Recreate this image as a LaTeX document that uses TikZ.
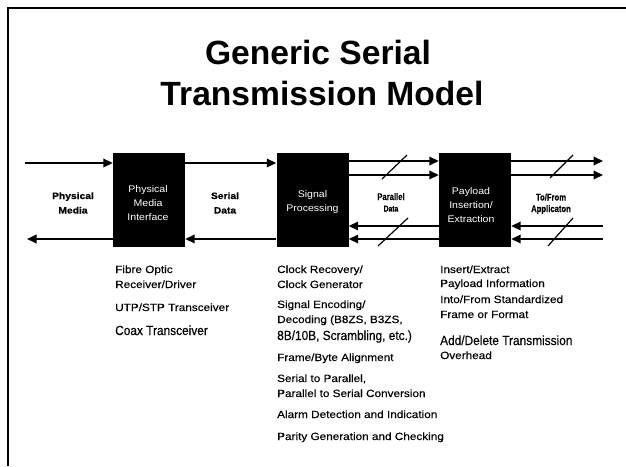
\documentclass[tikz,border=0pt]{standalone}
\usepackage{fontspec}
\setmainfont{Liberation Sans}
\usetikzlibrary{arrows.meta}
\newfontfamily\hvwide[FakeStretch=1.12,FakeBold=0.35]{Liberation Sans}
\newfontfamily\hvnarrow[FakeStretch=0.9,FakeBold=0.35]{Liberation Sans}
\newfontfamily\hvcond[FakeStretch=0.8,FakeBold=0.3]{Liberation Sans}
\newfontfamily\hvbox[FakeStretch=1.1]{Liberation Sans}
\newfontfamily\hvplain{Liberation Sans}
\newcommand\lstfont{\hvwide\fontsize{10.5}{12}\selectfont}
\newcommand\bigfont{\hvnarrow\fontsize{13.2}{15}\selectfont}
\newcommand\boxfont{\hvbox\fontsize{9.6}{14}\selectfont}
\newcommand\lblfont{\hvwide\bfseries\fontsize{9.2}{12}\selectfont}
\newcommand\smlblfont{\hvcond\bfseries\fontsize{9.6}{12}\selectfont}
\newcommand\titlefont{\hvplain\bfseries\fontsize{33.6}{40}\selectfont}
\begin{document}
\begin{tikzpicture}[x=1pt,y=-1pt,
  blk/.style={fill=black,draw=none,minimum width=72pt,minimum height=94pt,inner sep=0pt},
  boxtxt/.style={text=white,align=center,font=\boxfont,inner sep=0pt},
  lbl/.style={anchor=base,inner sep=0pt,font=\lblfont},
  smlbl/.style={anchor=base,inner sep=0pt,font=\smlblfont},
  lst/.style={anchor=base west,inner sep=0pt,font=\lstfont},
  lstbig/.style={anchor=base west,inner sep=0pt,font=\bigfont},
  ttl/.style={anchor=base,inner sep=0pt,font=\titlefont},
  arr/.style={line width=1.8pt,-{Triangle[length=9.5pt,width=8.5pt]}},
  slash/.style={line width=1.2pt},
  frame/.style={line width=1.2pt}]
\useasboundingbox (0,0) rectangle (626,466);

% slide frame
\coordinate (fbl) at (8,466);
\coordinate (ftl) at (8,8);
\coordinate (ftr) at (626,8);
\draw[frame] (fbl) -- (ftl) -- (ftr);

% title
\node[ttl] (t1) at (318,64) {Generic Serial};
\node[ttl] (t2) at (322,105) {Transmission Model};

% function blocks
\node[blk] (pmi) at (149,200) {};
\node[blk] (sp)  at (312.5,200) {};
\node[blk] (pie) at (475,200) {};
\node[boxtxt] (pmit) at (148,203) {Physical\\Media\\Interface};
\node[boxtxt] (spt)  at (312.5,202) {Signal\\Processing};
\node[boxtxt] (piet) at (471,205) {Payload\\Insertion/\\Extraction};

% free line ends
\coordinate (inL)  at (25,163);
\coordinate (outL) at (27,239);
\coordinate (r1) at (603,161);
\coordinate (r2) at (603,175);
\coordinate (r3) at (603,226);
\coordinate (r4) at (603,239);
\coordinate (m1) at (0,161);
\coordinate (m2) at (0,175);
\coordinate (m3) at (0,226);
\coordinate (m4) at (0,239);

% serial side
\draw[arr] (inL) -- (pmi.west |- inL);
\draw[arr] (pmi.west |- outL) -- (outL);
\draw[arr] (pmi.east |- inL) -- (sp.west |- inL);
\draw[arr] (sp.west |- outL) -- (pmi.east |- outL);

% parallel side
\draw[arr] (sp.east |- m1) -- (pie.west |- m1);
\draw[arr] (sp.east |- m2) -- (pie.west |- m2);
\draw[arr] (pie.west |- m3) -- (sp.east |- m3);
\draw[arr] (pie.west |- m4) -- (sp.east |- m4);
\draw[arr] (pie.east |- r1) -- (r1);
\draw[arr] (pie.east |- r2) -- (r2);
\draw[arr] (r3) -- (pie.east |- r3);
\draw[arr] (r4) -- (pie.east |- r4);

% bus markers
\coordinate (s1a) at (382,179); \coordinate (s1b) at (407,155);
\coordinate (s2a) at (378,246); \coordinate (s2b) at (408,218);
\coordinate (s3a) at (550,178); \coordinate (s3b) at (573,155);
\coordinate (s4a) at (548,246); \coordinate (s4b) at (573,218);
\draw[slash] (s1a) -- (s1b);
\draw[slash] (s2a) -- (s2b);
\draw[slash] (s3a) -- (s3b);
\draw[slash] (s4a) -- (s4b);

% link labels
\node[lbl] (lpm1) at (73,199) {Physical};
\node[lbl] (lpm2) at (73,213.5) {Media};
\node[lbl] (lsd1) at (225,199) {Serial};
\node[lbl] (lsd2) at (225,213.5) {Data};
\node[smlbl] (lpd1) at (391,200) {Parallel};
\node[smlbl,font=\hvcond\bfseries\fontsize{8.4}{10}\selectfont] (lpd2) at (391,211.5) {Data};
\node[smlbl] (lap1) at (551,200.5) {To/From};
\node[smlbl] (lap2) at (551,212) {Applicaton};

% physical media interface functions
\node[lst] (a1) at (115,273) {Fibre Optic};
\node[lst] (a2) at (115,288) {Receiver/Driver};
\node[lst] (a3) at (115,311) {UTP/STP Transceiver};
\node[lstbig] (a4) at (115,335) {Coax Transceiver};

% signal processing functions
\node[lst] (b1) at (277,273) {Clock Recovery/};
\node[lst] (b2) at (277,288) {Clock Generator};
\node[lst] (b3) at (277,308) {Signal Encoding/};
\node[lst] (b4) at (277,323) {Decoding (B8ZS, B3ZS,};
\node[lstbig] (b5) at (277,340) {8B/10B, Scrambling, etc.)};
\node[lst] (b6) at (277,361) {Frame/Byte Alignment};
\node[lst] (b7) at (277,382) {Serial to Parallel,};
\node[lst] (b8) at (277,397) {Parallel to Serial Conversion};
\node[lst] (b9) at (277,418) {Alarm Detection and Indication};
\node[lst] (b10) at (277,440) {Parity Generation and Checking};

% payload functions
\node[lst] (c1) at (440,273) {Insert/Extract};
\node[lst] (c2) at (440,287) {Payload Information};
\node[lst] (c3) at (440,303) {Into/From Standardized};
\node[lst] (c4) at (440,318) {Frame or Format};
\node[lstbig] (c5) at (440,345) {Add/Delete Transmission};
\node[lst] (c6) at (440,359) {Overhead};
\end{tikzpicture}
\end{document}
